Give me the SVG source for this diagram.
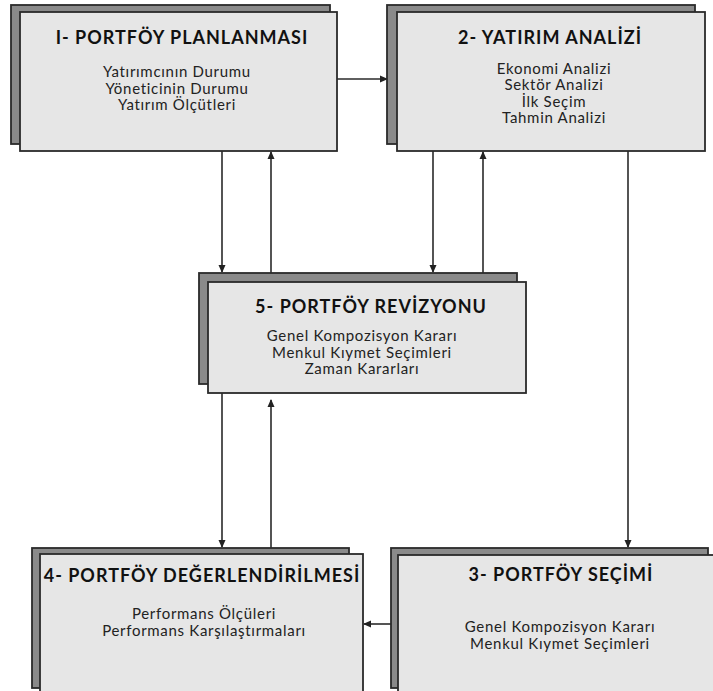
<svg xmlns="http://www.w3.org/2000/svg" width="713" height="691" viewBox="0 0 713 691">
<defs>
<marker id="ah" markerWidth="8" markerHeight="8" refX="7" refY="4" orient="auto" markerUnits="userSpaceOnUse">
<path d="M0,0.5 L8,4 L0,7.5 Z" fill="#222"/>
</marker>
</defs>
<style>
.sh{fill:#8a8a8a;stroke:#2a2a2a;stroke-width:1.8}
.fr{fill:#e6e6e6;stroke:#2a2a2a;stroke-width:1.8}
.t{font-family:Lato,"Open Sans","DejaVu Sans",sans-serif;font-weight:bold;font-size:18px;letter-spacing:1px;fill:#111;text-anchor:middle}
.b{font-family:Lato,"Open Sans","DejaVu Sans",sans-serif;font-size:15px;letter-spacing:0.7px;fill:#222;text-anchor:middle}
.c{fill:none;stroke:#2a2a2a;stroke-width:1.6;marker-end:url(#ah)}
</style>
<rect width="713" height="691" fill="#fff"/>
<g id="connectors">
<line class="c" x1="337" y1="79" x2="387" y2="79"/>
<line class="c" x1="222" y1="151" x2="222" y2="272"/>
<line class="c" x1="271" y1="273" x2="271" y2="152"/>
<line class="c" x1="433" y1="151" x2="433" y2="272"/>
<line class="c" x1="483" y1="273" x2="483" y2="152"/>
<line class="c" x1="628" y1="151" x2="628" y2="547"/>
<line class="c" x1="222" y1="393" x2="222" y2="547"/>
<line class="c" x1="271" y1="548" x2="271" y2="400"/>
<line class="c" x1="391" y1="624" x2="364" y2="624"/>
</g>
<g id="node1">
<rect class="sh" x="11" y="5" width="319" height="139"/>
<rect class="fr" x="20" y="12" width="317" height="139"/>
<text class="t" x="182" y="44">I- PORTFÖY PLANLANMASI</text>
<text class="b" x="177" y="77">Yatırımcının Durumu</text>
<text class="b" x="177" y="93.5">Yöneticinin Durumu</text>
<text class="b" x="177" y="110">Yatırım Ölçütleri</text>
</g>
<g id="node2">
<rect class="sh" x="387" y="5" width="308" height="139"/>
<rect class="fr" x="397" y="12" width="308" height="139"/>
<text class="t" x="550" y="44">2- YATIRIM ANALİZİ</text>
<text class="b" x="554" y="73.5">Ekonomi Analizi</text>
<text class="b" x="554" y="90">Sektör Analizi</text>
<text class="b" x="554" y="106.5">İlk Seçim</text>
<text class="b" x="554" y="123">Tahmin Analizi</text>
</g>
<g id="node5">
<rect class="sh" x="199" y="273" width="318" height="111"/>
<rect class="fr" x="208" y="282" width="318" height="111"/>
<text class="t" x="371" y="313">5- PORTFÖY REVİZYONU</text>
<text class="b" x="362" y="341">Genel Kompozisyon Kararı</text>
<text class="b" x="362" y="357.5">Menkul Kıymet Seçimleri</text>
<text class="b" x="362" y="374">Zaman Kararları</text>
</g>
<g id="node4">
<rect class="sh" x="32" y="548" width="317" height="140"/>
<rect class="fr" x="40" y="554" width="323" height="150"/>
<text class="t" x="202" y="582">4- PORTFÖY DEĞERLENDİRİLMESİ</text>
<text class="b" x="204" y="619">Performans Ölçüleri</text>
<text class="b" x="204" y="635.5">Performans Karşılaştırmaları</text>
</g>
<g id="node3">
<rect class="sh" x="391" y="548" width="317" height="140"/>
<rect class="fr" x="398" y="555" width="330" height="150"/>
<text class="t" x="561" y="581">3- PORTFÖY SEÇİMİ</text>
<text class="b" x="560" y="632">Genel Kompozisyon Kararı</text>
<text class="b" x="560" y="648.5">Menkul Kıymet Seçimleri</text>
</g>
</svg>
